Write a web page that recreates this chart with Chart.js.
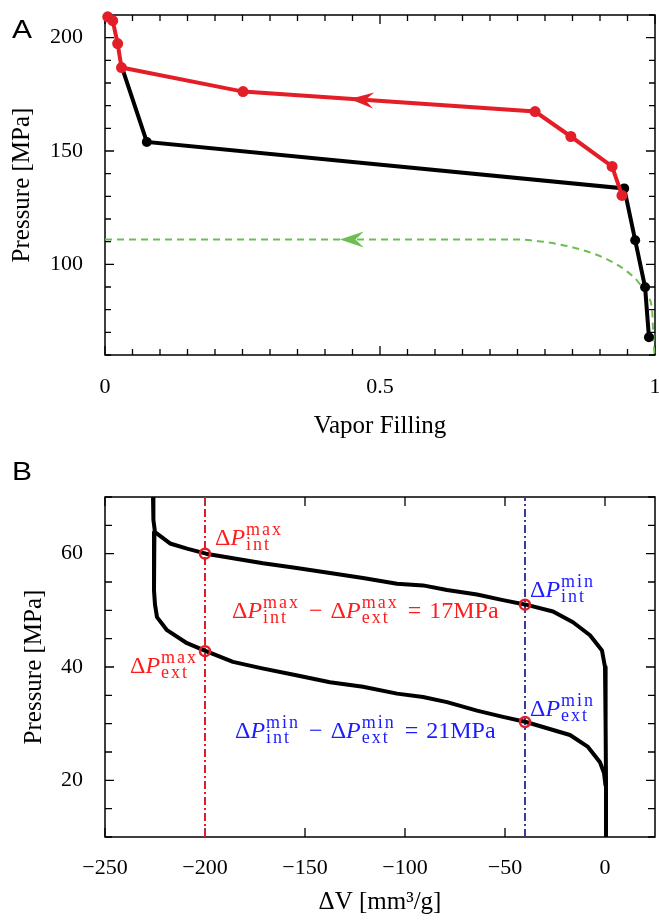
<!DOCTYPE html>
<html>
<head>
<meta charset="utf-8">
<script src="https://cdn.jsdelivr.net/npm/chart.js@4.4.1/dist/chart.umd.min.js"></script>
<style>
  html, body { margin: 0; padding: 0; background: #fff; }
  #wrap { position: relative; width: 659px; height: 923px; }
  canvas { position: absolute; left: 0; }
  #chartA { top: 0; }
  #chartB { top: 450px; }
  .panel { position: absolute; left: 12px; font: 25px "Liberation Sans", Arial, sans-serif; line-height: 1;
           transform: scaleX(1.2); transform-origin: left top; }
</style>
</head>
<body>
<div id="wrap">
  <canvas id="chartA" width="659" height="450"></canvas>
  <canvas id="chartB" width="659" height="473"></canvas>
  <div class="panel" style="top:17px">A</div>
  <div class="panel" style="top:459px">B</div>
</div>
<script>
// === Panel A: pressure vs vapor filling ===
const redX = [0.005, 0.014, 0.023, 0.030, 0.251, 0.782, 0.847, 0.922, 0.940];
const redY = [209.2, 207.5, 197.4, 186.8, 176.2, 167.4, 156.4, 143.2, 130.4];
const blackX = [0.031, 0.076, 0.944, 0.964, 0.982, 0.989];
const blackY = [186.8, 154.0, 133.5, 110.6, 89.9, 67.8];
const greenX = [0, 0.682, 0.742, 0.804, 0.864, 0.913, 0.949, 0.973, 0.987, 0.995, 0.996, 0.999];
const greenY = [111.0, 111.0, 111.0, 109.7, 106.6, 102.2, 96.9, 91.2, 85.5, 79.3, 73.6, 60.5];
const ticksAX = [0, 0.5, 1];
const ticksAY = [100, 150, 200];

// === Panel B: pressure vs volume change ===
const upperX = [-226, -225.8, -225, -217.5, -209, -199.5, -186, -171, -155, -137.5, -121, -104, -91, -79, -64, -51, -39.5, -26, -16, -7.5, -1.5, 0, 0.3, 0.5, 0.5];
const upperY = [70, 66, 63.8, 61.8, 60.9, 60.0, 59.2, 58.3, 57.5, 56.6, 55.7, 54.7, 54.4, 53.6, 52.8, 51.8, 51.0, 49.8, 47.9, 45.6, 42.9, 40, 30, 20, 10];
const lowerX = [-225.3, -225.5, -225.5, -225, -224, -219, -209, -199.5, -186, -172, -155, -137.5, -121, -104, -91, -79, -64, -51, -39.5, -17.5, -8.5, -2.5, -0.5, 0.3];
const lowerY = [63.8, 58.8, 53.5, 51.0, 48.8, 46.5, 44.2, 42.8, 40.9, 39.8, 38.6, 37.3, 36.5, 35.3, 34.7, 33.8, 32.3, 31.2, 30.3, 28.0, 25.9, 23.2, 21.3, 19];
const markX = [-200, -200, -40, -40];
const markY = [60.0, 42.8, 51.0, 30.3];
const guideX = [-200, -40];
const ticksBX = [-250, -200, -150, -100, -50, 0];
const ticksBY = [20, 40, 60];

const RED = "#e31e26";
const BLACK = "#000";
const GREEN = "#6cbf4f";
const NAVY = "#3c3c96";
const TXT_RED = "#ff1c1c";
const TXT_BLUE = "#1c1cff";
const SERIF = "'Liberation Serif', 'Times New Roman', serif";

const pts = (xs, ys) => xs.map((x, i) => ({ x, y: ys[i] }));
const minus = v => String(v).replace("-", "\u2212");

// box with inward ticks on all four sides
const frameTicks = {
  id: "frameTicks",
  beforeDatasetsDraw(chart, args, o) {
    const { ctx, chartArea: a, scales: { x, y } } = chart;
    ctx.save();
    ctx.strokeStyle = "#000";
    ctx.lineWidth = 1.5;
    ctx.strokeRect(a.left, a.top, a.right - a.left, a.bottom - a.top);
    ctx.lineWidth = 1.3;
    ctx.beginPath();
    const isMajor = (v, list) => list.some(m => Math.abs(m - v) < 1e-6);
    for (let v = x.min; v <= x.max + 1e-9; v += o.xStep) {
      const p = x.getPixelForValue(v);
      const len = isMajor(v, o.xMajor) ? o.major : o.minor;
      ctx.moveTo(p, a.bottom); ctx.lineTo(p, a.bottom - len);
      ctx.moveTo(p, a.top); ctx.lineTo(p, a.top + len);
    }
    for (let v = y.min; v <= y.max + 1e-9; v += o.yStep) {
      const p = y.getPixelForValue(v);
      const len = isMajor(v, o.yMajor) ? o.major : o.minor;
      ctx.moveTo(a.left, p); ctx.lineTo(a.left + len, p);
      ctx.moveTo(a.right, p); ctx.lineTo(a.right - len, p);
    }
    ctx.stroke();
    ctx.restore();
  }
};

// stealth arrow heads placed along a dataset segment
const arrows = {
  id: "arrows",
  afterDatasetsDraw(chart, args, o) {
    const { ctx } = chart;
    (o.list || []).forEach(ar => {
      const meta = chart.getDatasetMeta(ar.dataset);
      const p0 = meta.data[ar.seg], p1 = meta.data[ar.seg + 1];
      const tx = p0.x + (p1.x - p0.x) * ar.t, ty = p0.y + (p1.y - p0.y) * ar.t;
      let dx = p0.x - p1.x, dy = p0.y - p1.y;
      const n = Math.hypot(dx, dy); dx /= n; dy /= n;
      const L = 24, W = 8;
      ctx.save();
      ctx.fillStyle = ar.color;
      ctx.beginPath();
      ctx.moveTo(tx, ty);
      ctx.lineTo(tx - L * dx - W * dy, ty - L * dy + W * dx);
      ctx.lineTo(tx - 0.65 * L * dx, ty - 0.65 * L * dy);
      ctx.lineTo(tx - L * dx + W * dy, ty - L * dy - W * dx);
      ctx.closePath();
      ctx.fill();
      ctx.restore();
    });
  }
};

// math-style annotations (ΔP with sub/superscripts)
const MAIN = "24px " + SERIF;
const ITAL = "italic 24px " + SERIF;
const SCRIPT = "18px " + SERIF;
const term = (sup, sub) => [{ t: "\u0394" }, { t: "P", it: true }, { sup, sub }];
const op = s => [{ gap: 8 }, { t: s }, { gap: 8 }];
const annotations = [
  { x: -195, y: 61.5, color: TXT_RED, tokens: term("max", "int") },
  { x: -237.5, y: 38.9, color: TXT_RED, tokens: term("max", "ext") },
  { x: -186.5, y: 48.6, color: TXT_RED, tokens: [...term("max", "int"), ...op("\u2212"), ...term("max", "ext"), ...op("="), { t: "17MPa" }] },
  { x: -37.5, y: 52.3, color: TXT_BLUE, tokens: term("min", "int") },
  { x: -37.5, y: 31.3, color: TXT_BLUE, tokens: term("min", "ext") },
  { x: -185, y: 27.4, color: TXT_BLUE, tokens: [...term("min", "int"), ...op("\u2212"), ...term("min", "ext"), ...op("="), { t: "21MPa" }] }
];
const mathText = {
  id: "mathText",
  afterDatasetsDraw(chart) {
    const { ctx, scales: { x, y } } = chart;
    ctx.save();
    ctx.textAlign = "left";
    ctx.textBaseline = "alphabetic";
    annotations.forEach(a => {
      let cx = x.getPixelForValue(a.x);
      const by = y.getPixelForValue(a.y);
      ctx.fillStyle = a.color;
      a.tokens.forEach(tk => {
        if (tk.gap) { cx += tk.gap; return; }
        if (tk.sup !== undefined) {
          ctx.font = SCRIPT;
          ctx.letterSpacing = "2px";
          const w = Math.max(ctx.measureText(tk.sup).width, ctx.measureText(tk.sub).width);
          ctx.fillText(tk.sup, cx + 1, by - 10);
          ctx.fillText(tk.sub, cx + 1, by + 5);
          ctx.letterSpacing = "0px";
          cx += w + 2;
          return;
        }
        ctx.font = tk.it ? ITAL : MAIN;
        ctx.fillText(tk.t, cx, by);
        cx += ctx.measureText(tk.t).width;
      });
    });
    ctx.restore();
  }
};

const tickFont = { family: SERIF, size: 22 };
const titleFont = { family: SERIF, size: 25 };

function xScale(min, max, labels, pad, height, title, titlePad) {
  return {
    type: "linear", min, max,
    afterBuildTicks: s => { s.ticks = labels.map(v => ({ value: v })); },
    afterFit: s => { s.height = height; s.paddingLeft = 0; s.paddingRight = 0; },
    grid: { display: false, drawTicks: false },
    border: { display: false },
    ticks: { color: "#000", font: tickFont, padding: pad, maxRotation: 0, callback: v => minus(v) },
    title: { display: true, text: title, color: "#000", font: titleFont, padding: { top: 0, bottom: titlePad } }
  };
}
function yScale(min, max, labels, titlePad) {
  return {
    type: "linear", min, max,
    afterBuildTicks: s => { s.ticks = labels.map(v => ({ value: v })); },
    afterFit: s => { s.width = 105; s.paddingTop = 0; s.paddingBottom = 0; },
    grid: { display: false, drawTicks: false },
    border: { display: false },
    ticks: { color: "#000", font: tickFont, padding: 22, callback: v => minus(v) },
    title: { display: true, text: "Pressure [MPa]", color: "#000", font: titleFont, padding: { top: titlePad, bottom: 0 } }
  };
}

new Chart(document.getElementById("chartA"), {
  type: "scatter",
  data: {
    datasets: [
      { data: pts(greenX, greenY), showLine: true, borderColor: GREEN, borderWidth: 2, borderDash: [7, 5],
        pointRadius: 0, cubicInterpolationMode: "monotone", order: 4, clip: false },
      { data: pts(blackX, blackY), showLine: true, borderColor: BLACK, borderWidth: 4, backgroundColor: BLACK,
        pointRadius: c => (c.dataIndex === 0 ? 0 : 5), pointBorderWidth: 0, order: 3, clip: false },
      { data: pts(redX, redY), showLine: true, borderColor: RED, borderWidth: 4, backgroundColor: RED,
        pointRadius: 5.5, pointBorderWidth: 0, order: 2, clip: false }
    ]
  },
  options: {
    responsive: false,
    animation: false,
    layout: { autoPadding: false, padding: { top: 15, right: 4, left: 0, bottom: 0 } },
    plugins: {
      legend: { display: false },
      tooltip: { enabled: false },
      frameTicks: { xStep: 0.05, yStep: 10, xMajor: ticksAX, yMajor: ticksAY, major: 9, minor: 6 },
      arrows: { list: [
        { dataset: 2, seg: 4, t: 0.365, color: RED },
        { dataset: 0, seg: 0, t: 0.626, color: GREEN }
      ] }
    },
    scales: {
      x: xScale(0, 1, ticksAX, 19, 95, "Vapor Filling", 9),
      y: yScale(60, 210, ticksAY, 7)
    }
  },
  plugins: [frameTicks, arrows]
});

new Chart(document.getElementById("chartB"), {
  type: "scatter",
  data: {
    datasets: [
      { data: pts([guideX[0], guideX[0]], [10, 70]), showLine: true, borderColor: RED, borderWidth: 2,
        borderDash: [8, 3, 2, 3], pointRadius: 0, order: 4 },
      { data: pts([guideX[1], guideX[1]], [10, 70]), showLine: true, borderColor: NAVY, borderWidth: 2,
        borderDash: [8, 3, 2, 3], pointRadius: 0, order: 4 },
      { data: pts(upperX, upperY), showLine: true, borderColor: BLACK, borderWidth: 4, pointRadius: 0,
        borderJoinStyle: "round", order: 3 },
      { data: pts(lowerX, lowerY), showLine: true, borderColor: BLACK, borderWidth: 4, pointRadius: 0,
        borderJoinStyle: "round", order: 3 },
      { data: pts(markX, markY), showLine: false, pointRadius: 5, pointBorderWidth: 2.5,
        pointBorderColor: RED, pointBackgroundColor: "rgba(0,0,0,0)", order: 1, clip: false }
    ]
  },
  options: {
    responsive: false,
    animation: false,
    layout: { autoPadding: false, padding: { top: 47, right: 4, left: 0, bottom: 0 } },
    plugins: {
      legend: { display: false },
      tooltip: { enabled: false },
      frameTicks: { xStep: 50, yStep: 5, xMajor: ticksBX, yMajor: ticksBY, major: 9, minor: 7 }
    },
    scales: {
      x: xScale(-250, 25, ticksBX, 18, 86, "\u0394V [mm\u00b3/g]", 6),
      y: yScale(10, 70, ticksBY, 19)
    }
  },
  plugins: [frameTicks, mathText]
});
</script>
</body>
</html>
